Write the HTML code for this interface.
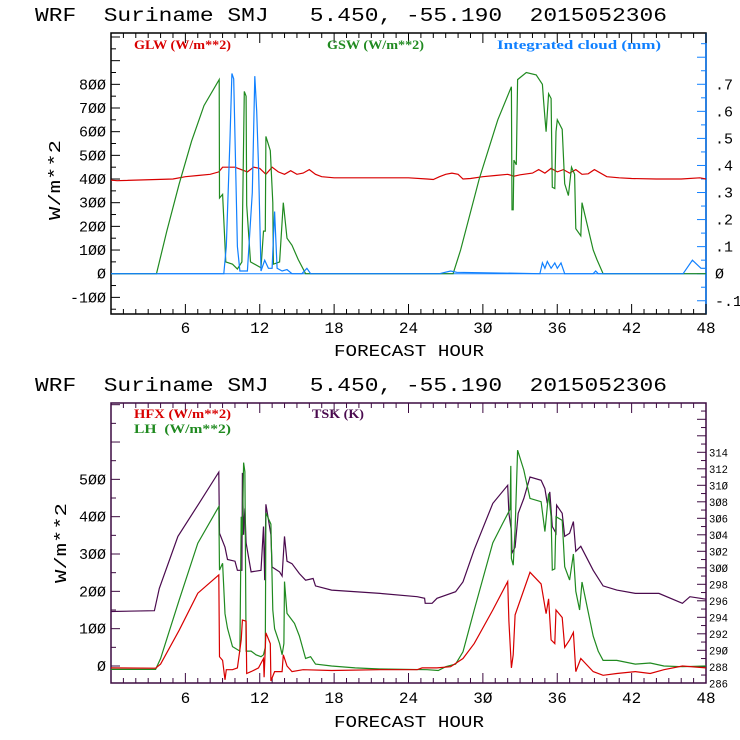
<!DOCTYPE html>
<html><head><meta charset="utf-8">
<style>
html,body{margin:0;padding:0;background:#fff;}
svg{display:block;}
text{font-family:"Liberation Mono",monospace;white-space:pre;}
.lg{font-family:"Liberation Serif",serif;font-weight:bold;font-size:13px;}
</style></head>
<body>
<svg id="chart" width="740" height="740" viewBox="0 0 740 740" xmlns="http://www.w3.org/2000/svg">
<text x="35" y="21" font-size="19" xml:space="preserve" textLength="632" lengthAdjust="spacingAndGlyphs">WRF  Suriname SMJ   5.450, -55.190  2015052306</text>
<text x="35" y="391" font-size="19" xml:space="preserve" textLength="632" lengthAdjust="spacingAndGlyphs">WRF  Suriname SMJ   5.450, -55.190  2015052306</text>
<g id="g1"></g>
<g id="g2"></g>
</svg>
<script>
// ---- top panel data (hour / value) ----
const glwHours = [0,0.5,5,6,7,8,8.7,9,10,10.5,11,11.5,12,12.5,13,13.5,14,14.5,15,15.5,16,16.5,17,18,20,24,25.5,26,26.5,27,27.5,28,28.4,29,30,31,32,32.5,33,34,34.5,35,35.5,36,36.5,37,37.5,38,38.5,39,40,41,42,44,46,47.5,48];
const glwVals  = [395,393,400,410,415,420,430,450,450,440,430,450,445,420,450,430,420,435,420,425,440,420,410,405,405,405,400,398,410,420,425,420,400,402,410,415,420,412,418,425,440,425,445,430,440,425,440,420,422,440,410,405,402,400,400,405,400];
const gswHours = [0,3.67,4.5,5.5,6.5,7.5,8.73,8.75,9.0,9.26,9.8,10.2,10.56,10.75,10.9,10.95,11.25,12.1,12.3,12.45,12.5,12.85,13.05,13.1,13.6,13.9,14.2,14.6,15.1,15.7,26.6,27.6,28.2,29.7,31.2,32.3,32.35,32.45,32.5,32.7,32.8,33.5,34.3,34.8,34.9,35.0,35.1,35.3,35.5,35.6,35.8,35.9,36.0,36.4,36.6,36.9,37.15,37.4,37.5,37.9,38.0,38.9,39.2,39.7,48];
const gswVals  = [0,0,180,380,560,710,820,320,335,50,40,20,50,770,750,290,50,25,180,180,580,520,300,40,50,300,150,120,60,0,0,0,100,400,650,790,270,270,480,460,820,850,840,800,730,660,600,760,740,365,360,600,650,610,380,330,450,420,190,160,300,100,60,0,0];
const cldHours = [0,9.1,9.3,9.6,9.75,9.9,10.2,10.4,11.0,11.4,11.6,11.75,11.9,12.1,12.4,12.7,13.0,13.2,13.4,13.8,14.2,14.6,15.4,15.8,16.1,26.5,27.4,27.9,34.6,34.8,35.0,35.2,35.5,35.8,36.0,36.3,36.6,38.9,39.1,39.3,46.15,46.9,47.6,48];
const cldVals  = [0,0,0.1,0.5,0.74,0.72,0.1,0.01,0.01,0.3,0.73,0.6,0.4,0.01,0.05,0.02,0.02,0.23,0.02,0.01,0.015,0,0,0.02,0,0,0.01,0.005,0,0.04,0.02,0.045,0.02,0.04,0.02,0.04,0,0,0.01,0,0,0.05,0.02,0.02];
const topLeftTicks = [-100,0,100,200,300,400,500,600,700,800];
const topRightTicks = [-0.1,0,0.1,0.2,0.3,0.4,0.5,0.6,0.7];
const topRightLabels = ["-.1","0",".1",".2",".3",".4",".5",".6",".7"];
const hourTicks = [6,12,18,24,30,36,42,48];

// ---- bottom panel data ----
const tskHours = [0,3.5,3.9,5.4,7.1,8.7,8.75,9.2,9.4,10.0,10.2,10.56,10.6,10.7,10.8,10.9,11.3,12.1,12.3,12.4,12.5,12.9,13.0,13.6,13.8,14.0,14.2,14.6,15.2,15.7,16.3,16.5,17.8,21.7,24.7,25.3,25.35,25.9,26.3,27.8,28.4,29.3,30.8,32.0,32.1,32.3,32.35,32.6,32.85,33.3,33.8,34.7,35.0,35.2,35.4,35.6,35.9,35.95,36.4,36.6,37.0,37.3,37.5,37.9,38.9,39.7,40.8,42.3,44.2,46.1,46.7,48];
const tskVals  = [294.7,294.8,297.5,303.8,307.8,311.6,304.2,302.5,301,300.8,299.7,299.7,311.5,304,307.2,303,299.5,299.7,305,298.5,307.7,304,300.1,299.5,299,303.8,300.8,300.5,299.3,298.5,298.7,297.8,297.3,296.9,296.5,296.3,295.7,295.7,296.3,297.1,298.3,302.2,307.8,310,306.6,304.5,301.8,302.5,306.6,308.4,311,310.6,309.6,307.8,309.2,305,304.2,307.6,306.6,303.8,304.2,305.6,302,302.6,299.7,297.8,297.3,296.9,296.9,295.7,296.5,296.2];
const lhHours = [0,3.6,4,5.5,7,8.7,8.75,9,9.2,9.4,9.8,10.4,10.5,10.6,10.7,10.8,10.9,10.95,11.3,11.7,12.1,12.3,12.45,12.5,12.9,13.05,13.2,13.6,13.8,13.95,14.0,14.2,14.8,15.2,15.7,16.1,16.5,17.8,19.7,21.7,25.5,26.4,27,27.8,28.4,29.3,30.8,31.6,32.2,32.25,32.3,32.45,32.6,32.8,33.3,33.8,34.7,35.0,35.3,35.5,35.6,35.8,35.9,36.4,36.6,37.0,37.3,37.5,37.8,38.0,38.9,39.3,39.7,40.8,42.3,43.5,44.6,46.1,48];
const lhVals  = [-9,-9,20,177,329,427,257,275,140,101,52,40,400,350,545,520,40,40,40,30,25,30,50,410,380,150,100,60,30,60,226,141,114,80,20,25,5,0,-5,-8,-10,-12,-2,5,38,150,330,382,420,536,288,270,365,578,525,449,440,360,462,400,257,260,400,390,266,230,300,200,150,225,80,40,15,15,5,8,0,-2,0];
const hfxHours = [0,3.6,4,5.5,7,8.7,8.75,9,9.2,9.3,9.8,10.2,10.5,10.6,10.9,10.95,11.3,11.9,12.3,12.35,12.5,12.85,12.9,13.2,13.8,13.9,14.2,14.6,15.5,17.8,21.7,24.7,25.1,26.3,27.4,28.4,29.3,30.8,32.0,32.1,32.3,32.45,32.6,33.8,34.7,35.1,35.3,35.5,35.8,35.9,36.4,36.6,37.0,37.3,37.5,37.9,38.9,39.7,40.8,42.3,43.5,44.6,46.1,48];
const hfxVals  = [-5,-6,5,96,195,244,25,15,-37,-10,-10,-5,70,123,120,-20,-15,-5,20,-30,89,60,-40,-15,-15,30,0,-15,-10,-12,-10,-10,-5,-5,-2,20,60,150,226,120,-5,30,137,251,220,140,180,70,60,150,130,50,70,90,-15,20,-15,-25,-20,-15,-20,-10,0,-5];
const botLeftTicks = [0,100,200,300,400,500];
const botRightTicks = [286,288,290,292,294,296,298,300,302,304,306,308,310,312,314];

const NS="http://www.w3.org/2000/svg";
function mk(parent,tag,attrs){const e=document.createElementNS(NS,tag);for(const k in attrs)e.setAttribute(k,attrs[k]);parent.appendChild(e);return e;}

// axis functions
const X0=111, X1=706;
function xs(h){return X0+(X1-X0)*h/48;}
const T_TOP=33, T_BOT=314;
function yTopL(v){return 273.7-v*0.2367;}
function yTopR(v){return 273.7-v*270.6;}
const B_TOP=403, B_BOT=683;
function yBotL(v){return 666-v*0.3733;}
function yBotR(v){return 683.3-(v-286)*8.25;}

function line(g,hs,vs,fy,color,name){
  let d='';
  for(let i=0;i<hs.length;i++){d+=(i?'L':'M')+xs(hs[i]).toFixed(1)+' '+fy(vs[i]).toFixed(1);}
  const p=mk(g,'path',{d:d,fill:'none',stroke:color,'stroke-width':1.2});
  
  
}

function xAxis(g,yb,yt,color,labelY,titleY){
  for(let h=0;h<=48;h++){
    const big=h%6===0, len=big?10:5;
    mk(g,'line',{x1:xs(h),x2:xs(h),y1:yb,y2:yb-len,stroke:color});
    mk(g,'line',{x1:xs(h),x2:xs(h),y1:yt,y2:yt+len,stroke:color});
  }
  hourTicks.forEach(h=>{
    const t=mk(g,'text',{x:xs(h),y:labelY,'font-size':16,'text-anchor':'middle'});
    t.textContent=String(h).replace(/0/g,'Ø');
    
    
  });
  const t=mk(g,'text',{x:409,y:titleY,'font-size':17,'text-anchor':'middle',textLength:150,lengthAdjust:'spacingAndGlyphs'});
  t.textContent='FORECAST HOUR';
  
  
}
function zf(s){return s.replace(/0/g,'Ø');}

// ---------- TOP ----------
const g1=document.getElementById('g1');
mk(g1,'rect',{x:X0,y:T_TOP,width:X1-X0,height:T_BOT-T_TOP,fill:'none',stroke:'#000','stroke-width':1.5});
mk(g1,'line',{x1:X1,x2:X1,y1:T_TOP,y2:T_BOT,stroke:'#1080ff','stroke-width':1.5});
for(let v=-150;v<=1000;v+=50){const y=yTopL(v);if(y<T_TOP||y>T_BOT)continue;mk(g1,'line',{x1:X0,x2:X0+(v%100===0?9:5),y1:y,y2:y,stroke:'#000'});}
topLeftTicks.forEach(v=>{const t=mk(g1,'text',{x:106,y:yTopL(v)+5,'font-size':15,'text-anchor':'end'});t.textContent=zf(String(v));
  
  });
for(let v=-0.15;v<=0.9;v+=0.05){const y=yTopR(v);if(y<T_TOP||y>T_BOT)continue;const big=Math.abs(Math.round(v*10)-v*10)<1e-6;mk(g1,'line',{x1:X1,x2:X1-(big?9:5),y1:y,y2:y,stroke:'#1080ff'});}
topRightTicks.forEach((v,i)=>{const t=mk(g1,'text',{x:715,y:yTopR(v)+5,'font-size':15});t.textContent=zf(topRightLabels[i]);
  
  });
mk(g1,'line',{x1:X0,x2:X1,y1:yTopL(0),y2:yTopL(0),stroke:'#1080ff'});
xAxis(g1,T_BOT,T_TOP,'#000',333,356);
line(g1,glwHours,glwVals,yTopL,'#d80000','glw-line');
line(g1,gswHours,gswVals,yTopL,'#208a20','gsw-line');
line(g1,cldHours,cldVals,yTopR,'#1080ff','cloud-line');
(function(){const t=mk(g1,'text',{x:60,y:180,'font-size':17,'text-anchor':'middle',transform:'rotate(-90 60 180)',textLength:80,lengthAdjust:'spacingAndGlyphs'});t.textContent='W/m**2';
  
  })();
[['GLW (W/m**2)',134,'#d80000',97],['GSW (W/m**2)',327,'#208a20',97],['Integrated cloud (mm)',497,'#1080ff',164]].forEach(a=>{
  const t=mk(g1,'text',{x:a[1],y:49,fill:a[2],class:'lg',textLength:a[3],lengthAdjust:'spacingAndGlyphs'});t.textContent=a[0];
  
  });

// ---------- BOTTOM ----------
const g2=document.getElementById('g2');
const PU='#3c0a40';
mk(g2,'rect',{x:X0,y:B_TOP,width:X1-X0,height:B_BOT-B_TOP,fill:'none',stroke:PU,'stroke-width':1.5});
for(let v=-50;v<=700;v+=50){const y=yBotL(v);if(y<B_TOP||y>B_BOT)continue;mk(g2,'line',{x1:X0,x2:X0+(v%100===0?9:5),y1:y,y2:y,stroke:PU});}
botLeftTicks.forEach(v=>{const t=mk(g2,'text',{x:106,y:yBotL(v)+5,'font-size':15,'text-anchor':'end'});t.textContent=zf(String(v));
  
  });
for(let v=286;v<=320;v+=1){const y=yBotR(v);if(y<B_TOP||y>B_BOT)continue;mk(g2,'line',{x1:X1,x2:X1-(v%2===0?9:5),y1:y,y2:y,stroke:PU});}
botRightTicks.forEach(v=>{const t=mk(g2,'text',{x:709,y:yBotR(v)+4,'font-size':11,textLength:19,lengthAdjust:'spacingAndGlyphs'});t.textContent=zf(String(v));
  
  });
xAxis(g2,B_BOT,B_TOP,PU,703,727);
line(g2,tskHours,tskVals,yBotR,'#4a0a4e','tsk-line');
line(g2,lhHours,lhVals,yBotL,'#208a20','lh-line');
line(g2,hfxHours,hfxVals,yBotL,'#d80000','hfx-line');
(function(){const t=mk(g2,'text',{x:66,y:543,'font-size':17,'text-anchor':'middle',transform:'rotate(-90 66 543)',textLength:80,lengthAdjust:'spacingAndGlyphs'});t.textContent='W/m**2';
  
  })();
[['HFX (W/m**2)',134,418,'#d80000',97],['LH  (W/m**2)',134,433,'#208a20',97],['TSK (K)',312,418,'#4a0a4e',52]].forEach(a=>{
  const t=mk(g2,'text',{x:a[1],y:a[2],fill:a[3],class:'lg',textLength:a[4],lengthAdjust:'spacingAndGlyphs'});t.textContent=a[0];
  
  });
</script>
</body></html>
